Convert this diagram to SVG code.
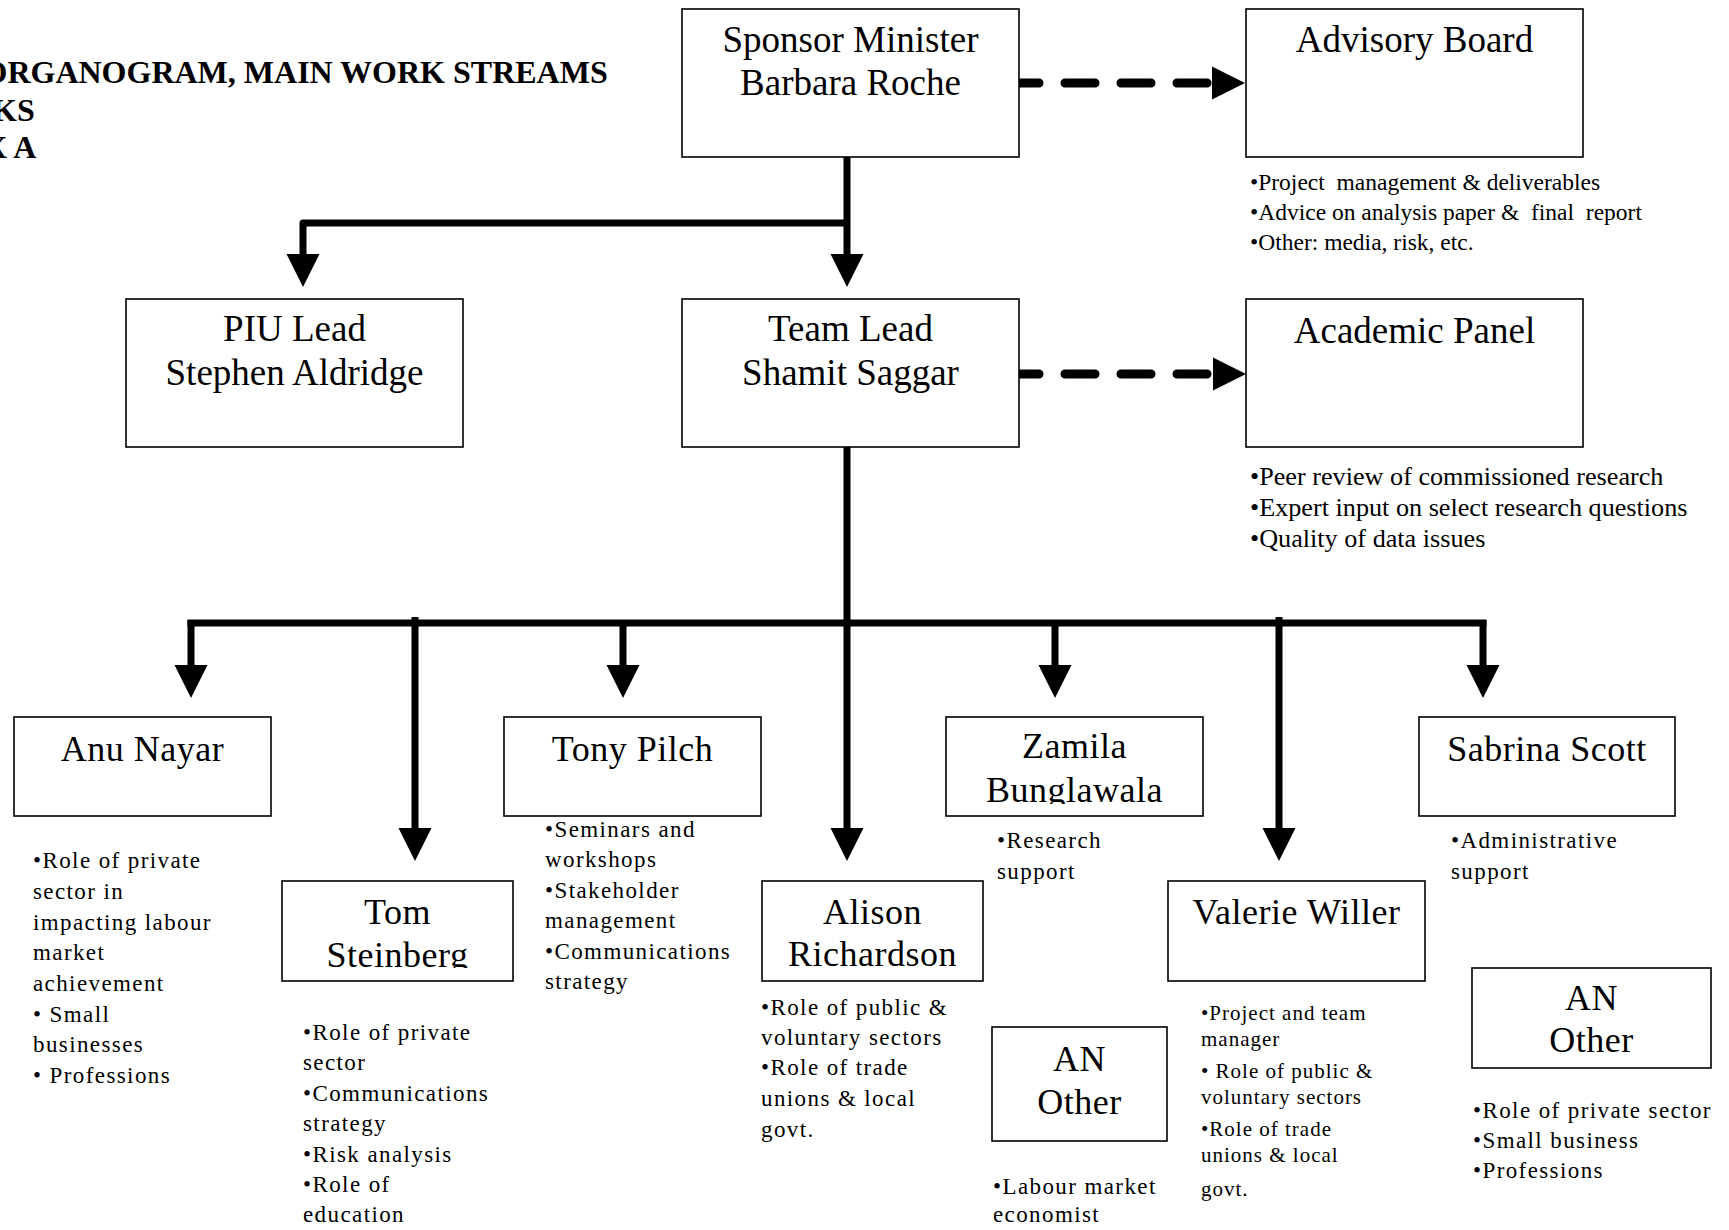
<svg xmlns="http://www.w3.org/2000/svg" width="1729" height="1230" viewBox="0 0 1729 1230">
<style>
text{font-family:"Liberation Serif","Times New Roman",serif;fill:#000}
.box{fill:#fff;stroke:#000;stroke-width:1.6}
.t1{font-size:37px;text-anchor:middle}
.t2{font-size:36px;letter-spacing:0.5px;text-anchor:middle}
.d1{font-size:23.5px;white-space:pre}
.d2{font-size:26.2px}
.d3{font-size:23px;letter-spacing:1.4px;white-space:pre}
.d4{font-size:21px;letter-spacing:1px;white-space:pre}
.title{font-size:32px;font-weight:bold}
.ln{fill:none;stroke:#000;stroke-width:7;stroke-linejoin:round}
.dash{fill:none;stroke:#000;stroke-width:9;stroke-linecap:round;stroke-dasharray:30 26}
</style>
<defs>
<marker id="ah" viewBox="0 -17 34 34" refX="1" refY="0" markerWidth="34" markerHeight="34" markerUnits="userSpaceOnUse" orient="auto">
<path d="M0,-16.5 L33,0 L0,16.5 Z" fill="#000"/>
</marker>
<clipPath id="clipZ"><rect x="946" y="717" width="257" height="87"/></clipPath>
<clipPath id="clipT"><rect x="282" y="881" width="231" height="87"/></clipPath>
</defs>

<g id="title">
<text class="title" x="-17.5" y="83">ORGANOGRAM, MAIN WORK STREAMS</text>
<text class="title" x="-8" y="121">KS</text>
<text class="title" x="-16" y="158">X A</text>
</g>

<g id="connectors">
<path class="dash" d="M1009,83 L1213,83" marker-end="url(#ah)"/>
<path class="dash" d="M1009,374 L1214,374" marker-end="url(#ah)"/>
<path class="ln" d="M847,157 L847,255" marker-end="url(#ah)"/>
<path class="ln" d="M847,223 L303,223 L303,255" marker-end="url(#ah)"/>
<path class="ln" d="M187.5,623 L1486.5,623"/>
<path class="ln" d="M847,447 L847,829" marker-end="url(#ah)"/>
<path class="ln" d="M191,620 L191,666" marker-end="url(#ah)"/>
<path class="ln" d="M623,620 L623,666" marker-end="url(#ah)"/>
<path class="ln" d="M1055,620 L1055,666" marker-end="url(#ah)"/>
<path class="ln" d="M1483,620 L1483,666" marker-end="url(#ah)"/>
<path class="ln" d="M415,617 L415,829" marker-end="url(#ah)"/>
<path class="ln" d="M1279,617 L1279,829" marker-end="url(#ah)"/>
</g>

<g id="sponsor">
<rect class="box" x="682" y="9" width="337" height="148"/>
<text class="t1" x="850.5" y="52">Sponsor Minister</text>
<text class="t1" x="850.5" y="95">Barbara Roche</text>
</g>

<g id="advisory">
<rect class="box" x="1246" y="9" width="337" height="148"/>
<text class="t1" x="1414.5" y="52">Advisory Board</text>
<text class="d1" x="1250" y="190">•Project  management &amp; deliverables</text>
<text class="d1" x="1250" y="220">•Advice on analysis paper &amp;  final  report</text>
<text class="d1" x="1250" y="250">•Other: media, risk, etc.</text>
</g>

<g id="piu">
<rect class="box" x="126" y="299" width="337" height="148"/>
<text class="t1" x="294.5" y="341">PIU Lead</text>
<text class="t1" x="294.5" y="385">Stephen Aldridge</text>
</g>

<g id="teamlead">
<rect class="box" x="682" y="299" width="337" height="148"/>
<text class="t1" x="850.5" y="341">Team Lead</text>
<text class="t1" x="850.5" y="385">Shamit Saggar</text>
</g>

<g id="academic">
<rect class="box" x="1246" y="299" width="337" height="148"/>
<text class="t1" x="1414.5" y="343">Academic Panel</text>
<text class="d2" x="1250" y="485">•Peer review of commissioned research</text>
<text class="d2" x="1250" y="516">•Expert input on select research questions</text>
<text class="d2" x="1250" y="547">•Quality of data issues</text>
</g>

<g id="anu">
<rect class="box" x="14" y="717" width="257" height="99"/>
<text class="t2" x="142.5" y="761">Anu Nayar</text>
<text class="d3"><tspan x="33" y="868">•Role of private</tspan><tspan x="33" y="899">sector in</tspan><tspan x="33" y="930">impacting labour</tspan><tspan x="33" y="960">market</tspan><tspan x="33" y="991">achievement</tspan><tspan x="33" y="1022">• Small</tspan><tspan x="33" y="1052">businesses</tspan><tspan x="33" y="1083">• Professions</tspan></text>
</g>

<g id="tom">
<rect class="box" x="282" y="881" width="231" height="100"/>
<g clip-path="url(#clipT)">
<text class="t2" x="397.5" y="924">Tom</text>
<text class="t2" x="397.5" y="967">Steinberg</text>
</g>
<text class="d3"><tspan x="303" y="1040">•Role of private</tspan><tspan x="303" y="1070">sector</tspan><tspan x="303" y="1101">•Communications</tspan><tspan x="303" y="1131">strategy</tspan><tspan x="303" y="1162">•Risk analysis</tspan><tspan x="303" y="1192">•Role of</tspan><tspan x="303" y="1222">education</tspan></text>
</g>

<g id="tony">
<rect class="box" x="504" y="717" width="257" height="99"/>
<text class="t2" x="632.5" y="761">Tony Pilch</text>
<text class="d3"><tspan x="545" y="837">•Seminars and</tspan><tspan x="545" y="867">workshops</tspan><tspan x="545" y="898">•Stakeholder</tspan><tspan x="545" y="928">management</tspan><tspan x="545" y="959">•Communications</tspan><tspan x="545" y="989">strategy</tspan></text>
</g>

<g id="alison">
<rect class="box" x="762" y="881" width="221" height="100"/>
<text class="t2" x="872.5" y="924">Alison</text>
<text class="t2" x="872.5" y="966">Richardson</text>
<text class="d3"><tspan x="761" y="1015">•Role of public &amp;</tspan><tspan x="761" y="1045">voluntary sectors</tspan><tspan x="761" y="1075">•Role of trade</tspan><tspan x="761" y="1106">unions &amp; local</tspan><tspan x="761" y="1137">govt.</tspan></text>
</g>

<g id="zamila">
<rect class="box" x="946" y="717" width="257" height="99"/>
<g clip-path="url(#clipZ)">
<text class="t2" x="1074.5" y="758">Zamila</text>
<text class="t2" x="1074.5" y="802">Bunglawala</text>
</g>
<text class="d3"><tspan x="997" y="848">•Research</tspan><tspan x="997" y="879">support</tspan></text>
</g>

<g id="anotherMid">
<rect class="box" x="992" y="1027" width="175" height="114"/>
<text class="t2" x="1079.5" y="1071">AN</text>
<text class="t2" x="1079.5" y="1114">Other</text>
<text class="d3"><tspan x="993" y="1194">•Labour market</tspan><tspan x="993" y="1222">economist</tspan></text>
</g>

<g id="valerie">
<rect class="box" x="1168" y="881" width="257" height="100"/>
<text class="t2" x="1296.5" y="924">Valerie Willer</text>
<text class="d4"><tspan x="1201" y="1020">•Project and team</tspan><tspan x="1201" y="1046">manager</tspan><tspan x="1201" y="1078">• Role of public &amp;</tspan><tspan x="1201" y="1104">voluntary sectors</tspan><tspan x="1201" y="1136">•Role of trade</tspan><tspan x="1201" y="1162">unions &amp; local</tspan><tspan x="1201" y="1196">govt.</tspan></text>
</g>

<g id="sabrina">
<rect class="box" x="1419" y="717" width="256" height="99"/>
<text class="t2" x="1547" y="761">Sabrina Scott</text>
<text class="d3"><tspan x="1451" y="848">•Administrative</tspan><tspan x="1451" y="879">support</tspan></text>
</g>

<g id="anotherRight">
<rect class="box" x="1472" y="968" width="239" height="100"/>
<text class="t2" x="1591.5" y="1010">AN</text>
<text class="t2" x="1591.5" y="1052">Other</text>
<text class="d3"><tspan x="1473" y="1118">•Role of private sector</tspan><tspan x="1473" y="1148">•Small business</tspan><tspan x="1473" y="1178">•Professions</tspan></text>
</g>
</svg>
